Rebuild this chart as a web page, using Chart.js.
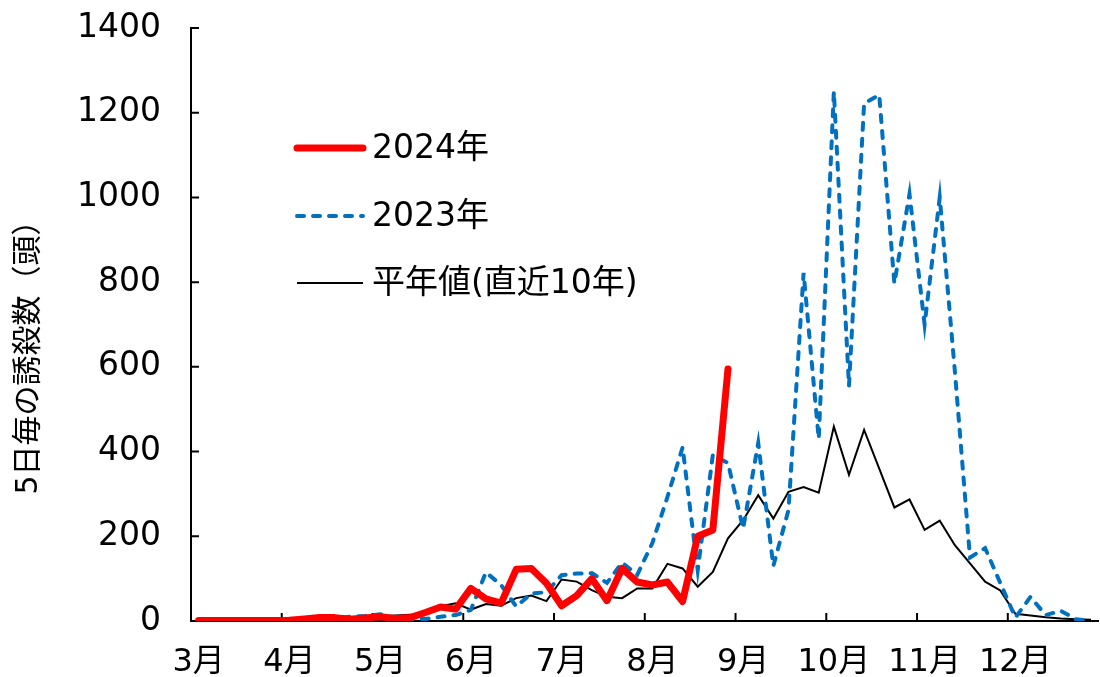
<!DOCTYPE html>
<html lang="ja">
<head>
<meta charset="utf-8">
<script src="https://cdn.jsdelivr.net/npm/chart.js@4.4.1/dist/chart.umd.min.js"></script>
<style>
  html, body { margin: 0; padding: 0; background: #fff; overflow: hidden; }
  canvas { display: block; }
</style>
</head>
<body>
<canvas id="trapChart" width="1105" height="677"></canvas>
<script>
// Months on the x axis, each split into six 5-day periods
const months = ["3月", "4月", "5月", "6月", "7月", "8月", "9月", "10月", "11月", "12月"];
const periodsPerMonth = 6;

// 5-day trap counts, one value per period (Mar..Dec)
const count2024 = [
  1, 1, 1, 1, 1, 1,
  2, 5, 8, 8, 4, 7,
  10, 6, 8, 20, 33, 28,
  77, 52, 42, 122, 124, 89,
  36, 60, 100, 48, 124, 92,
  85, 92, 46, 200, 215, 595
];

const count2023 = [
  0, 0, 0, 0, 0, 0,
  0, 2, 4, 6, 10, 12,
  16, 6, 4, 5, 10, 14,
  26, 115, 85, 34, 65, 68,
  108, 112, 113, 90, 138, 109,
  184, 293, 410, 120, 392, 373,
  218, 420, 130, 262, 822, 430,
  1250, 555, 1222, 1242, 797, 1008,
  700, 1000, 590, 150, 172, 90,
  8, 57, 14, 24, 4, 0
];

// 10-year average, starts in April
const countNormal = [
  null, null, null, null, null, null,
  2, 3, 4, 6, 8, 10,
  11, 13, 15, 17, 35, 42,
  27, 40, 36, 54, 60, 47,
  98, 93, 73, 57, 54, 77,
  77, 135, 124, 81, 116, 195,
  238, 297, 242, 305, 316, 303,
  459, 345, 451, 360, 268, 287,
  215, 237, 179, 136, 93, 72,
  17, 13, 9, 6, 4, 3
];

const yTicks = [0, 200, 400, 600, 800, 1000, 1200, 1400];
const seriesNames = ["2024年", "2023年", "平年値(直近10年)"];
const yTitle = "5日毎の誘殺数（頭）";

const FONT = "'DejaVu Sans', 'Noto Sans CJK JP', sans-serif";

// month name on the first period of each month, blanks for the rest
const labels = months.flatMap(m => [m, ...Array(periodsPerMonth - 1).fill("")]);

// inward tick marks on both axes (month boundaries on x)
const innerTicks = {
  id: "innerTicks",
  beforeDatasetsDraw(chart) {
    const { ctx, chartArea: a, scales: { x, y } } = chart;
    ctx.save();
    ctx.strokeStyle = "#000";
    ctx.lineWidth = 2;
    ctx.beginPath();
    yTicks.forEach(v => {
      const py = y.getPixelForValue(v);
      ctx.moveTo(a.left, py);
      ctx.lineTo(a.left + 8, py);
    });
    for (let m = 1; m < months.length; m++) {
      const i = m * periodsPerMonth;
      const px = (x.getPixelForValue(i - 1) + x.getPixelForValue(i)) / 2;
      ctx.moveTo(px, a.bottom);
      ctx.lineTo(px, a.bottom - 8);
    }
    ctx.stroke();
    ctx.restore();
  }
};

// legend inside the plot + rotated y title
const legendAndTitle = {
  id: "legendAndTitle",
  afterDraw(chart) {
    const { ctx } = chart;
    const rows = [148, 216, 283];
    ctx.save();
    chart.data.datasets.forEach((ds, i) => {
      ctx.beginPath();
      ctx.strokeStyle = ds.borderColor;
      ctx.lineWidth = ds.borderWidth;
      ctx.lineCap = ds.borderCapStyle || "butt";
      ctx.setLineDash(ds.borderDash || []);
      ctx.moveTo(297, rows[i]);
      ctx.lineTo(363, rows[i]);
      ctx.stroke();
      ctx.setLineDash([]);
      ctx.fillStyle = "#000";
      ctx.font = "33px " + FONT;
      ctx.textAlign = "left";
      ctx.textBaseline = "middle";
      ctx.fillText(ds.label, 372, rows[i] + 1);
    });

    ctx.translate(29, 350);
    ctx.rotate(-Math.PI / 2);
    ctx.font = "30px " + FONT;
    ctx.textAlign = "center";
    ctx.textBaseline = "middle";
    ctx.fillText(yTitle, 0, 0);
    ctx.restore();
  }
};

const ctx = document.getElementById("trapChart").getContext("2d");
new Chart(ctx, {
  type: "line",
  data: {
    labels,
    datasets: [
      {
        label: seriesNames[0],
        data: count2024,
        borderColor: "#ff0000",
        borderWidth: 7,
        borderCapStyle: "round",
        borderJoinStyle: "round",
        pointRadius: 0,
        tension: 0
      },
      {
        label: seriesNames[1],
        data: count2023,
        borderColor: "#0070c0",
        borderWidth: 4,
        borderDash: [7, 9],
        borderCapStyle: "round",
        pointRadius: 0,
        tension: 0
      },
      {
        label: seriesNames[2],
        data: countNormal,
        borderColor: "#000000",
        borderWidth: 2,
        pointRadius: 0,
        tension: 0
      }
    ]
  },
  options: {
    responsive: false,
    animation: false,
    layout: { padding: { top: 28, right: 0, bottom: 0, left: 0 } },
    plugins: {
      legend: { display: false },
      tooltip: { enabled: false }
    },
    scales: {
      x: {
        offset: true,
        ticks: {
          autoSkip: false,
          maxRotation: 0,
          minRotation: 0,
          color: "#000",
          font: { family: FONT, size: 32 },
          padding: 14
        },
        grid: { display: false },
        border: { display: true, color: "#000", width: 2 },
        afterFit: s => { s.height = 56; }
      },
      y: {
        min: 0,
        max: 1400,
        afterBuildTicks: s => { s.ticks = yTicks.map(v => ({ value: v })); },
        ticks: {
          color: "#000",
          font: { family: FONT, size: 33 },
          padding: 2,
          callback: v => String(v)
        },
        // invisible outer tick length just to push labels away from the axis
        grid: {
          display: true,
          drawOnChartArea: false,
          drawTicks: true,
          tickLength: 28,
          tickColor: "rgba(0,0,0,0)"
        },
        border: { display: true, color: "#000", width: 2 },
        afterFit: s => { s.width = 191; }
      }
    }
  },
  plugins: [innerTicks, legendAndTitle]
});
</script>
</body>
</html>
